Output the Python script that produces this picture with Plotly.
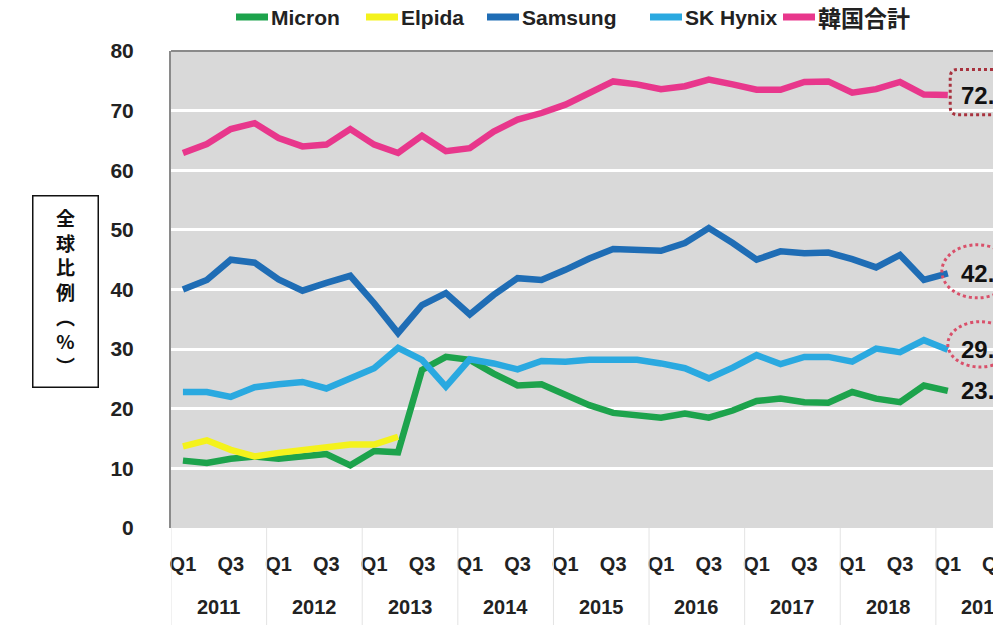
import plotly.graph_objects as go

years = ["2011", "2012", "2013", "2014", "2015", "2016", "2017", "2018", "2019"]
quarters = [f"{y} Q{q}" for y in years for q in range(1, 5)][:33]
quarter_short = [q.split()[1] for q in quarters]

micron = [11.3, 10.9, 11.6, 12.0, 11.6, 12.0, 12.4, 10.5, 12.9, 12.7, 26.5, 28.7, 28.2,
          25.9, 23.9, 24.1, 22.3, 20.6, 19.3, 18.9, 18.5, 19.2, 18.5, 19.7, 21.3, 21.7,
          21.1, 21.0, 22.8, 21.7, 21.1, 23.9, 23.0]
elpida = [13.7, 14.7, 13.1, 12.0, 12.6, 13.0, 13.6, 14.0, 14.0, 15.3]
samsung = [40.0, 41.6, 45.0, 44.5, 41.7, 39.8, 41.1, 42.3, 37.7, 32.7, 37.4, 39.4, 35.8,
           39.1, 41.9, 41.6, 43.3, 45.2, 46.8, 46.6, 46.5, 47.8, 50.3, 47.8, 45.0, 46.4,
           46.1, 46.2, 45.1, 43.7, 45.8, 41.6, 42.7]
hynix = [22.8, 22.8, 22.0, 23.6, 24.1, 24.5, 23.4, 25.1, 26.8, 30.2, 28.2, 23.7, 28.3,
         27.6, 26.6, 28.0, 27.9, 28.2, 28.3, 28.2, 27.6, 26.8, 25.1, 26.9, 29.0, 27.5,
         28.7, 28.7, 27.9, 30.1, 29.5, 31.5, 29.9]
korea = [62.9, 64.4, 66.9, 67.9, 65.4, 64.0, 64.3, 66.9, 64.3, 62.9, 65.8, 63.2, 63.7,
         66.5, 68.5, 69.6, 71.0, 73.0, 74.9, 74.4, 73.6, 74.1, 75.2, 74.4, 73.5, 73.5,
         74.8, 74.9, 73.0, 73.6, 74.8, 72.7, 72.6]

series_names = ["Micron", "Elpida", "Samsung", "SK Hynix", "韓国合計"]
series_values = [micron, elpida, samsung, hynix, korea]
series_colors = ["#1da34c", "#f4f21c", "#1f6db5", "#2aa9e0", "#e8378c"]

FONT = "Liberation Sans, Arial, sans-serif"
CJK = "Noto Sans CJK JP, Noto Sans CJK SC, sans-serif"
TXT = "#222222"

W, H = 993, 625
ML, MT, MB = 171, 51, 97
PW = W - ML
PH = H - MT - MB


def px_x(px):
    return (px - ML) / PW


def px_y(py):
    return (H - MB - py) / PH


fig = go.Figure()
for name, vals, col in zip(series_names, series_values, series_colors):
    xs = list(range(len(vals)))
    fig.add_trace(go.Scatter(
        x=xs, y=vals, name=name, mode="lines",
        line=dict(color=col, width=6.5),
        cliponaxis=False, showlegend=False,
    ))

# tick positions: Q1 and Q3 of each year
tickvals = [i for i, q in enumerate(quarter_short) if q in ("Q1", "Q3")]
ticktext = [quarter_short[i] for i in tickvals]

n_vis = 34.39  # visible quarters across plot width (chart is cut at the right)
fig.update_xaxes(
    range=[-0.5, -0.5 + n_vis],
    tickvals=tickvals, ticktext=ticktext,
    showgrid=False, zeroline=False, showline=False,
    ticks="", ticklabelstandoff=22,
    tickfont=dict(family=FONT, size=20, color=TXT, weight="bold"),
)
fig.update_yaxes(
    range=[0, 80], dtick=10,
    showgrid=True, gridcolor="#ffffff", gridwidth=2.5,
    zeroline=False, showline=True, linecolor="#8a8a8a", linewidth=2,
    ticks="", ticklabelstandoff=31,
    tickfont=dict(family=FONT, size=21, color=TXT, weight="bold"),
)

shapes = []
annotations = []
# top border of the plot area
shapes.append(dict(type="line", xref="paper", yref="paper", x0=0, x1=1, y0=1, y1=1,
                   line=dict(color="#8a8a8a", width=2)))
# year separators below the axis
for k in range(len(years) + 1):
    xb = -0.5 + 4 * k
    shapes.append(dict(type="line", xref="x", yref="paper", x0=xb, x1=xb, y0=0, y1=-0.21,
                       line=dict(color="#e3e3e3", width=1)))

# Q3 tick label of 2019 (cut by the page edge)
annotations.append(dict(x=(34 + 0.5) / n_vis, y=0, xref="paper", yref="paper", yshift=-36,
                        text="Q3", showarrow=False, xanchor="center", yanchor="middle",
                        font=dict(family=FONT, size=20, color=TXT, weight="bold")))
# year labels
for k, yr in enumerate(years):
    annotations.append(dict(x=(4 * k + 1.5 + 0.5) / n_vis, y=px_y(607), xref="paper",
                            yref="paper", text=yr, showarrow=False, xanchor="center",
                            yanchor="middle",
                            font=dict(family=FONT, size=20, color=TXT, weight="bold")))

# end-value labels
last = len(korea) - 1
for vals in (korea, samsung, hynix, micron):
    annotations.append(dict(x=last, y=vals[-1], xref="x", yref="y", xshift=11,
                            text=f"{vals[-1]:.1f}", showarrow=False, xanchor="left",
                            yanchor="middle",
                            font=dict(family=FONT, size=24, color="#111111", weight="bold")))

# dotted highlight box around the Korea total label (rounded rectangle)
x0, x1 = last + 0.1, last + 2.6
y0, y1 = korea[-1] - 3.3, korea[-1] + 4.3
rx, ry = 0.33, 1.35
path = (f"M {x0+rx},{y0} L {x1-rx},{y0} Q {x1},{y0} {x1},{y0+ry} L {x1},{y1-ry} "
        f"Q {x1},{y1} {x1-rx},{y1} L {x0+rx},{y1} Q {x0},{y1} {x0},{y1-ry} "
        f"L {x0},{y0+ry} Q {x0},{y0} {x0+rx},{y0} Z")
shapes.append(dict(type="path", xref="x", yref="y", path=path,
                   line=dict(color="#a8323e", width=3, dash="dot")))
# dotted ellipses around Samsung and SK Hynix labels
shapes.append(dict(type="circle", xref="x", yref="y", x0=last - 0.25, x1=last + 2.7,
                   y0=samsung[-1] - 4.1, y1=samsung[-1] + 4.8,
                   line=dict(color="#d9506a", width=3, dash="dot")))
shapes.append(dict(type="circle", xref="x", yref="y", x0=last, x1=last + 2.7,
                   y0=hynix[-1] - 2.9, y1=hynix[-1] + 4.7,
                   line=dict(color="#d9506a", width=3, dash="dot")))

# custom legend (segment + text) across the top
legend_seg_left = [236, 366, 487, 650, 783]
legend_y = px_y(17)
for name, col, sx in zip(series_names, series_colors, legend_seg_left):
    shapes.append(dict(type="line", xref="paper", yref="paper",
                       x0=px_x(sx), x1=px_x(sx + 32), y0=legend_y, y1=legend_y,
                       line=dict(color=col, width=7)))
    is_cjk = not name.isascii()
    annotations.append(dict(x=px_x(sx + 33), y=legend_y, xref="paper", yref="paper",
                            text=name, showarrow=False, xanchor="left", yanchor="middle",
                            font=dict(family=CJK if is_cjk else FONT,
                                      size=23 if is_cjk else 21, color=TXT,
                                      weight="bold")))

# boxed vertical y-axis title
annotations.append(dict(
    x=px_x(66), y=px_y(291), xref="paper", yref="paper",
    text="全<br>球<br>比<br>例<br>︵<br>%<br>︶", showarrow=False,
    xanchor="center", yanchor="middle", align="center",
    width=60, height=186, bordercolor="#111111", borderwidth=1.5, borderpad=2,
    font=dict(family=CJK, size=19, color="#111111", weight="bold"),
))

fig.update_layout(
    width=W, height=H,
    margin=dict(l=ML, r=0, t=MT, b=MB, pad=0),
    paper_bgcolor="#ffffff", plot_bgcolor="#d9d9d9",
    showlegend=False,
    shapes=shapes, annotations=annotations,
)

fig.write_html("out.html")
